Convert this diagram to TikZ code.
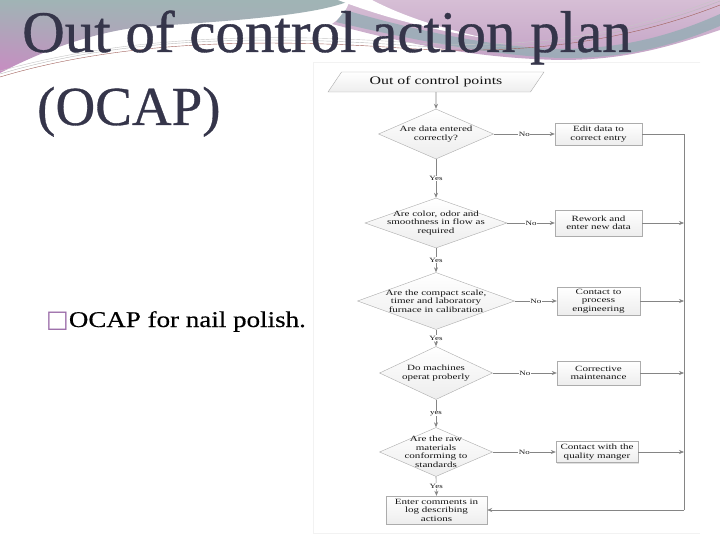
\documentclass[tikz,border=0pt]{standalone}
\usepackage{fontspec}
\setmainfont{Liberation Serif}
\newfontfamily\fcfont[FakeStretch=1.38]{Liberation Serif}
\newfontfamily\bulfont[FakeStretch=1.2,FakeBold=0.4]{Liberation Serif}
\newfontfamily\ttlfont[FakeBold=0.6]{Liberation Serif}
\newfontfamily\symfont{DejaVu Sans}
\usetikzlibrary{shapes.geometric,arrows.meta,shadows,shadings}
\definecolor{titlecol}{HTML}{35354A}
\definecolor{teal1}{HTML}{A0B4B5}
\definecolor{pink1}{HTML}{C88CC2}
\definecolor{lav1}{HTML}{D6BED5}
\definecolor{lav2}{HTML}{C4A3C6}
\definecolor{tealband}{HTML}{98ADB6}
\definecolor{bulcol}{HTML}{9A6BA8}
\definecolor{fctxt}{HTML}{151515}
\definecolor{fcline}{HTML}{858585}
\definecolor{brownline}{HTML}{A0605A}
\begin{document}
\begin{tikzpicture}[x=1pt,y=-1pt,
  fc/.style={font=\fcfont\fontsize{8}{8.5}\selectfont, text=fctxt, align=center, inner sep=0pt},
  box/.style={fc, rectangle, draw=gray!65, top color=white, bottom color=gray!14,
    drop shadow={shadow xshift=1.2pt, shadow yshift=-1.2pt, opacity=0.25}},
  dia/.style={diamond, draw=gray!65, top color=white, bottom color=gray!14, inner sep=0pt, aspect=1},
  arr/.style={draw=fcline, line width=0.6pt, -{Stealth[length=5pt,width=4pt]}},
  ln/.style={draw=fcline, line width=0.6pt},
  lab/.style={font=\fcfont\fontsize{6.5}{7}\selectfont, text=fctxt, fill=white, inner sep=0.6pt},
  titletext/.style={anchor=base west, inner sep=0pt, text=titlecol}
]
\useasboundingbox (0,0) rectangle (720,540);
\fill[white] (0,0) rectangle (720,540);

% background swooshes
\shade[upper left=teal1, upper right=teal1, lower right=teal1!85!pink1, lower left=pink1]
  (0,0) -- (352,0) .. controls (320,14) and (250,20) .. (140,27)
  .. controls (90,33) and (40,52) .. (0,73) -- cycle;
\shade[top color=lav1, bottom color=lav2]
  (350,0) -- (720,0) -- (720,30) .. controls (660,50) and (620,60) .. (560,60)
  .. controls (470,58) and (400,42) .. (332,24) .. controls (345,15) and (348,6) .. (350,0) -- cycle;
\fill[white] (338,0) .. controls (380,16) and (430,30) .. (485,38)
  .. controls (430,26) and (395,12) .. (372,0) -- cycle;
\fill[tealband, opacity=0.85] (336,22) .. controls (420,42) and (500,56) .. (560,58)
  .. controls (625,59) and (675,45) .. (720,26) -- (720,14)
  .. controls (675,34) and (625,49) .. (560,49) .. controls (500,48) and (420,32) .. (345,10) -- cycle;
\draw[gray!55, line width=0.4pt] (0,74) .. controls (120,38) and (260,35) .. (400,45) .. controls (520,53) and (620,40) .. (720,1);
\draw[brownline, line width=0.4pt] (0,77) .. controls (120,41) and (260,38) .. (400,48) .. controls (520,56) and (625,42) .. (720,5);
\draw[gray!45, line width=0.4pt] (0,71) .. controls (125,36) and (265,33) .. (400,42) .. controls (520,50) and (615,38) .. (720,-2);

% faint frame of the pasted chart
\draw[gray!10, line width=0.5pt] (700,62) -- (313,62) -- (313,533) -- (700,533);

% flowchart
\node[fc, shape=trapezium, trapezium left angle=48, trapezium right angle=132,
  trapezium stretches=true, minimum width=216, minimum height=20,
  draw=gray!65, top color=white, bottom color=gray!14,
  font=\fcfont\fontsize{11.5}{12}\selectfont] (start) at (436,82) {Out of control points};

\node[dia, minimum width=115, minimum height=50] (d1) at (436,134) {};
\node[fc] (t1) at (d1) {Are data entered\\correctly?};
\node[dia, minimum width=142, minimum height=50] (d2) at (436,223) {};
\node[fc] (t2) at (d2) {Are color, odor and\\smoothness in flow as\\required};
\node[dia, minimum width=157, minimum height=57] (d3) at (436,301) {};
\node[fc] (t3) at (d3) {Are the compact scale,\\timer and laboratory\\furnace in calibration};
\node[dia, minimum width=113, minimum height=53] (d4) at (436,373) {};
\node[fc] (t4) at (d4) {Do machines\\operat proberly};
\node[dia, minimum width=113, minimum height=49] (d5) at (436,452) {};
\node[fc] (t5) at (d5) {Are the raw\\materials\\conforming to\\standards};

\node[box, minimum width=87, minimum height=22] (b1) at (598.5,134) {Edit data to\\correct entry};
\node[box, minimum width=87, minimum height=26] (b2) at (598.5,223) {Rework and\\enter new data};
\node[box, minimum width=83, minimum height=28] (b3) at (598.5,301) {Contact to\\process\\engineering};
\node[box, minimum width=83, minimum height=24] (b4) at (598.5,373) {Corrective\\maintenance};
\node[box, minimum width=82, minimum height=21] (b5) at (597,452) {Contact with the\\quality manger};
\node[box, minimum width=101, minimum height=28] (b6) at (436.5,510) {Enter comments in\\log describing\\actions};

\coordinate (r1) at (684,134);
\coordinate (r2) at (684,223);
\coordinate (r3) at (684,301);
\coordinate (r4) at (684,373);
\coordinate (r5) at (684,452);
\coordinate (r6) at (684,510);

\draw[arr] (start.south) -- (d1.north);
\draw[arr] (d1.south) -- node[lab] {Yes} (d2.north);
\draw[arr] (d2.south) -- node[lab] {Yes} (d3.north);
\draw[arr] (d3.south) -- node[lab] {Yes} (d4.north);
\draw[arr] (d4.south) -- node[lab] {yes} (d5.north);
\draw[arr] (d5.south) -- node[lab] {Yes} (b6.north);

\draw[arr] (d1.east) -- node[lab] {No} (b1.west);
\draw[arr] (d2.east) -- node[lab] {No} (b2.west);
\draw[arr] (d3.east) -- node[lab] {No} (b3.west);
\draw[arr] (d4.east) -- node[lab] {No} (b4.west);
\draw[arr] (d5.east) -- node[lab] {No} (b5.west);

\draw[ln] (b1.east) -- (r1) -- (r6);
\draw[arr] (b2.east) -- (r2);
\draw[arr] (b3.east) -- (r3);
\draw[arr] (b4.east) -- (r4);
\draw[arr] (b5.east) -- (r5);
\draw[arr] (r6) -- (b6.east);

% slide texts
\node[titletext, font=\ttlfont\fontsize{59}{60}\selectfont] (title) at (22,52) {Out of control action plan};
\node[titletext, font=\ttlfont\fontsize{55}{56}\selectfont] (ocap) at (37,125) {(OCAP)};
\node[anchor=base west, inner sep=0pt] (bullet) at (46,327)
  {{\symfont\fontsize{24}{26}\selectfont\textcolor{bulcol}{□}}{\bulfont\fontsize{22.5}{24}\selectfont OCAP for nail polish.}};
\end{tikzpicture}
\end{document}
